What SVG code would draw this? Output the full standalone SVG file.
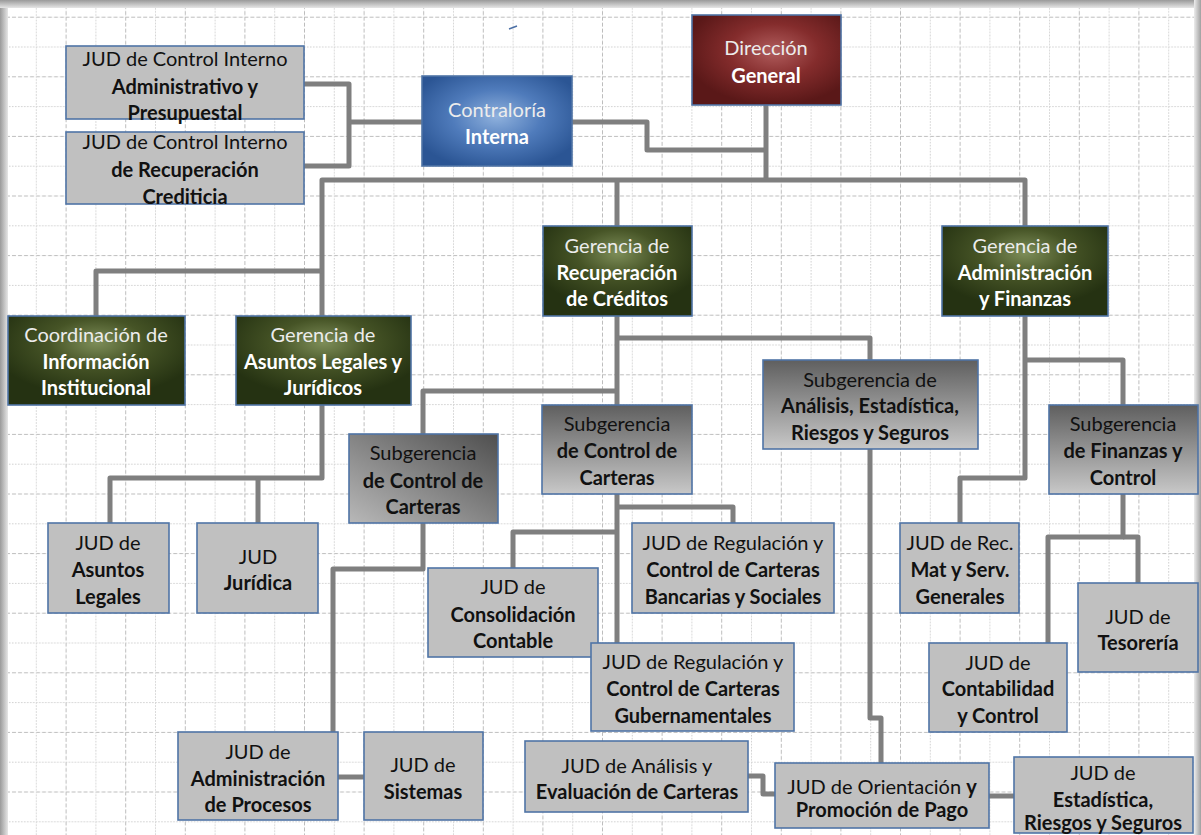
<svg xmlns="http://www.w3.org/2000/svg" width="1201" height="835" viewBox="0 0 1201 835">
<defs>
<pattern id="grid" x="6" y="16.7" width="59.6" height="59.6" patternUnits="userSpaceOnUse">
<path d="M0,0.5 H59.6" stroke="#bdbdbd" stroke-width="1" stroke-dasharray="4,2" fill="none"/>
<path d="M0,30.3 H59.6" stroke="#cfcfcf" stroke-width="1" stroke-dasharray="1.5,1.5" fill="none"/>
<path d="M0.5,0 V59.6" stroke="#bdbdbd" stroke-width="1" stroke-dasharray="4,2" fill="none"/>
<path d="M30.3,0 V59.6" stroke="#cfcfcf" stroke-width="1" stroke-dasharray="1.5,1.5" fill="none"/>
</pattern>
<linearGradient id="shL" x1="0" y1="0" x2="1" y2="0"><stop offset="0" stop-color="#9a9a9a"/><stop offset="1" stop-color="#e6e6e6"/></linearGradient>
<linearGradient id="shT" x1="0" y1="0" x2="0" y2="1"><stop offset="0" stop-color="#9a9a9a"/><stop offset="1" stop-color="#e6e6e6"/></linearGradient>
<linearGradient id="shR" x1="1" y1="0" x2="0" y2="0"><stop offset="0" stop-color="#a0a0a0"/><stop offset="1" stop-color="#ececec"/></linearGradient>
<radialGradient id="gBlue" cx="0.5" cy="0.45" r="0.6"><stop offset="0" stop-color="#8fb1dd"/><stop offset="0.5" stop-color="#4f7bbb"/><stop offset="1" stop-color="#2b5594"/></radialGradient>
<radialGradient id="gRed" cx="0.55" cy="0.4" r="0.6"><stop offset="0" stop-color="#b15d5d"/><stop offset="0.5" stop-color="#842c2c"/><stop offset="1" stop-color="#5a1818"/></radialGradient>
<radialGradient id="gGreen" cx="0.5" cy="0.3" r="0.6"><stop offset="0" stop-color="#7d8d58"/><stop offset="0.45" stop-color="#465426"/><stop offset="1" stop-color="#253212"/></radialGradient>
<linearGradient id="gSub" x1="0" y1="0" x2="0" y2="1"><stop offset="0" stop-color="#5f5f5f"/><stop offset="1" stop-color="#c8c8c8"/></linearGradient>
<linearGradient id="gSubD" x1="1" y1="0" x2="0" y2="1"><stop offset="0" stop-color="#4f4f4f"/><stop offset="1" stop-color="#b8b8b8"/></linearGradient>
</defs>
<style>
.box{stroke:#4f74a6;stroke-width:1.6}
.gray{fill:#c0c0c0}
.t{font-family:Lato,"Liberation Sans",sans-serif;font-size:20px;text-anchor:middle}
.dk{fill:#111}
.wh{fill:#ffffff}
.b{font-weight:bold}
.lt{fill:#ececec}
.con{fill:none;stroke:#7f7f7f;stroke-width:5;stroke-linejoin:round}
</style>
<rect x="0" y="0" width="1201" height="835" fill="#ffffff"/>
<rect x="0" y="0" width="1201" height="835" fill="url(#grid)"/>
<rect x="0" y="0" width="8" height="835" fill="url(#shL)"/>
<rect x="0" y="0" width="1201" height="8" fill="url(#shT)"/>
<rect x="1194" y="0" width="7" height="835" fill="url(#shR)"/>
<path d="M509,29 L517,26" stroke="#4a6fa5" stroke-width="1.5" fill="none"/>
<g id="connectors">
<path class="con" d="M304,84 H349 V166 H304"/>
<path class="con" d="M349,122 H422"/>
<path class="con" d="M572,122 H647 V150 H766"/>
<path class="con" d="M766,105 V180"/>
<path class="con" d="M322,316 V180 H1025 V226"/>
<path class="con" d="M617,180 V226"/>
<path class="con" d="M322,271 H96 V316"/>
<path class="con" d="M322,405 V478 H110 V523"/>
<path class="con" d="M258,478 V523"/>
<path class="con" d="M617,316 V405"/>
<path class="con" d="M617,338 H870 V360"/>
<path class="con" d="M617,391 H423 V434"/>
<path class="con" d="M423,523 V569 H333 V732"/>
<path class="con" d="M338,777 H364"/>
<path class="con" d="M617,494 V643"/>
<path class="con" d="M617,507 H733 V523"/>
<path class="con" d="M617,532 H513 V568"/>
<path class="con" d="M870,449 V718 H881 V763"/>
<path class="con" d="M748,776 H763 V794 H775"/>
<path class="con" d="M989,796 H1014"/>
<path class="con" d="M1025,316 V478 H960 V523"/>
<path class="con" d="M1025,360 H1123 V405"/>
<path class="con" d="M1123,494 V537 H1048 V643"/>
<path class="con" d="M1123,537 H1138 V583"/>
</g>
<g id="jud-control-admin">
<rect class="box gray" x="66" y="46" width="238" height="73"/>
<text class="t dk" x="185" y="66">JUD de Control Interno</text>
<text class="t dk b" x="185" y="94">Administrativo y</text>
<text class="t dk b" x="185" y="120">Presupuestal</text>
</g>
<g id="jud-control-recup">
<rect class="box gray" x="66" y="132" width="238" height="72"/>
<text class="t dk" x="185" y="149">JUD de Control Interno</text>
<text class="t dk b" x="185" y="177">de Recuperación</text>
<text class="t dk b" x="185" y="204">Crediticia</text>
</g>
<g id="contraloria">
<rect class="box" fill="url(#gBlue)" x="422" y="76" width="150" height="90"/>
<text class="t lt" x="497" y="117">Contraloría</text>
<text class="t wh b" x="497" y="144">Interna</text>
</g>
<g id="direccion">
<rect class="box" fill="url(#gRed)" x="692" y="15" width="149" height="90"/>
<text class="t lt" x="766" y="55">Dirección</text>
<text class="t wh b" x="766" y="83">General</text>
</g>
<g id="coordinacion">
<rect class="box" fill="url(#gGreen)" x="8" y="316" width="177" height="89"/>
<text class="t lt" x="96" y="342">Coordinación de</text>
<text class="t wh b" x="96" y="369">Información</text>
<text class="t wh b" x="96" y="395">Institucional</text>
</g>
<g id="ger-legales">
<rect class="box" fill="url(#gGreen)" x="236" y="316" width="175" height="89"/>
<text class="t lt" x="323" y="342">Gerencia de</text>
<text class="t wh b" x="323" y="369">Asuntos Legales y</text>
<text class="t wh b" x="323" y="395">Jurídicos</text>
</g>
<g id="ger-recuperacion">
<rect class="box" fill="url(#gGreen)" x="543" y="226" width="149" height="90"/>
<text class="t lt" x="617" y="253">Gerencia de</text>
<text class="t wh b" x="617" y="280">Recuperación</text>
<text class="t wh b" x="617" y="306">de Créditos</text>
</g>
<g id="ger-admin">
<rect class="box" fill="url(#gGreen)" x="942" y="226" width="166" height="90"/>
<text class="t lt" x="1025" y="253">Gerencia de</text>
<text class="t wh b" x="1025" y="280">Administración</text>
<text class="t wh b" x="1025" y="306">y Finanzas</text>
</g>
<g id="sub-carteras-left">
<rect class="box" fill="url(#gSubD)" x="349" y="434" width="149" height="89"/>
<text class="t dk" x="423" y="460">Subgerencia</text>
<text class="t dk b" x="423" y="488">de Control de</text>
<text class="t dk b" x="423" y="514">Carteras</text>
</g>
<g id="sub-carteras-mid">
<rect class="box" fill="url(#gSub)" x="542" y="405" width="150" height="89"/>
<text class="t dk" x="617" y="431">Subgerencia</text>
<text class="t dk b" x="617" y="458">de Control de</text>
<text class="t dk b" x="617" y="485">Carteras</text>
</g>
<g id="sub-analisis">
<rect class="box" fill="url(#gSub)" x="763" y="360" width="215" height="89"/>
<text class="t dk" x="870" y="387">Subgerencia de</text>
<text class="t dk b" x="870" y="413">Análisis, Estadística,</text>
<text class="t dk b" x="870" y="440">Riesgos y Seguros</text>
</g>
<g id="sub-finanzas">
<rect class="box" fill="url(#gSub)" x="1049" y="405" width="149" height="89"/>
<text class="t dk" x="1123" y="431">Subgerencia</text>
<text class="t dk b" x="1123" y="458">de Finanzas y</text>
<text class="t dk b" x="1123" y="485">Control</text>
</g>
<g id="jud-legales">
<rect class="box gray" x="48" y="523" width="121" height="90"/>
<text class="t dk" x="108" y="550">JUD de</text>
<text class="t dk b" x="108" y="577">Asuntos</text>
<text class="t dk b" x="108" y="604">Legales</text>
</g>
<g id="jud-juridica">
<rect class="box gray" x="197" y="523" width="121" height="90"/>
<text class="t dk" x="258" y="564">JUD</text>
<text class="t dk b" x="258" y="590">Jurídica</text>
</g>
<g id="jud-bancarias">
<rect class="box gray" x="632" y="523" width="202" height="90"/>
<text class="t dk" x="733" y="550">JUD de Regulación y</text>
<text class="t dk b" x="733" y="577">Control de Carteras</text>
<text class="t dk b" x="733" y="604">Bancarias y Sociales</text>
</g>
<g id="jud-consolidacion">
<rect class="box gray" x="428" y="568" width="170" height="89"/>
<text class="t dk" x="513" y="594">JUD de</text>
<text class="t dk b" x="513" y="622">Consolidación</text>
<text class="t dk b" x="513" y="648">Contable</text>
</g>
<g id="jud-gubernamentales">
<rect class="box gray" x="591" y="643" width="203" height="88"/>
<text class="t dk" x="693" y="669">JUD de Regulación y</text>
<text class="t dk b" x="693" y="696">Control de Carteras</text>
<text class="t dk b" x="693" y="723">Gubernamentales</text>
</g>
<g id="jud-recmat">
<rect class="box gray" x="900" y="523" width="119" height="90"/>
<text class="t dk" x="960" y="550">JUD de Rec.</text>
<text class="t dk b" x="960" y="577">Mat y Serv.</text>
<text class="t dk b" x="960" y="604">Generales</text>
</g>
<g id="jud-tesoreria">
<rect class="box gray" x="1078" y="583" width="120" height="89"/>
<text class="t dk" x="1138" y="624">JUD de</text>
<text class="t dk b" x="1138" y="650">Tesorería</text>
</g>
<g id="jud-contabilidad">
<rect class="box gray" x="929" y="643" width="138" height="89"/>
<text class="t dk" x="998" y="670">JUD de</text>
<text class="t dk b" x="998" y="696">Contabilidad</text>
<text class="t dk b" x="998" y="723">y Control</text>
</g>
<g id="jud-admin-procesos">
<rect class="box gray" x="178" y="732" width="160" height="88"/>
<text class="t dk" x="258" y="759">JUD de</text>
<text class="t dk b" x="258" y="786">Administración</text>
<text class="t dk b" x="258" y="812">de Procesos</text>
</g>
<g id="jud-sistemas">
<rect class="box gray" x="364" y="732" width="119" height="88"/>
<text class="t dk" x="423" y="772">JUD de</text>
<text class="t dk b" x="423" y="799">Sistemas</text>
</g>
<g id="jud-analisis">
<rect class="box gray" x="525" y="741" width="223" height="71"/>
<text class="t dk" x="637" y="773">JUD de Análisis y</text>
<text class="t dk b" x="637" y="799">Evaluación de Carteras</text>
</g>
<g id="jud-orientacion">
<rect class="box gray" x="775" y="763" width="214" height="65"/>
<text class="t dk" x="882" y="794">JUD de Orientación <tspan class="b">y</tspan></text>
<text class="t dk b" x="882" y="817">Promoción de Pago</text>
</g>
<g id="jud-estadistica">
<rect class="box gray" x="1014" y="757" width="179" height="76"/>
<text class="t dk" x="1103" y="780">JUD de</text>
<text class="t dk b" x="1103" y="807">Estadística,</text>
<text class="t dk b" x="1103" y="830">Riesgos y Seguros</text>
</g>
</svg>
